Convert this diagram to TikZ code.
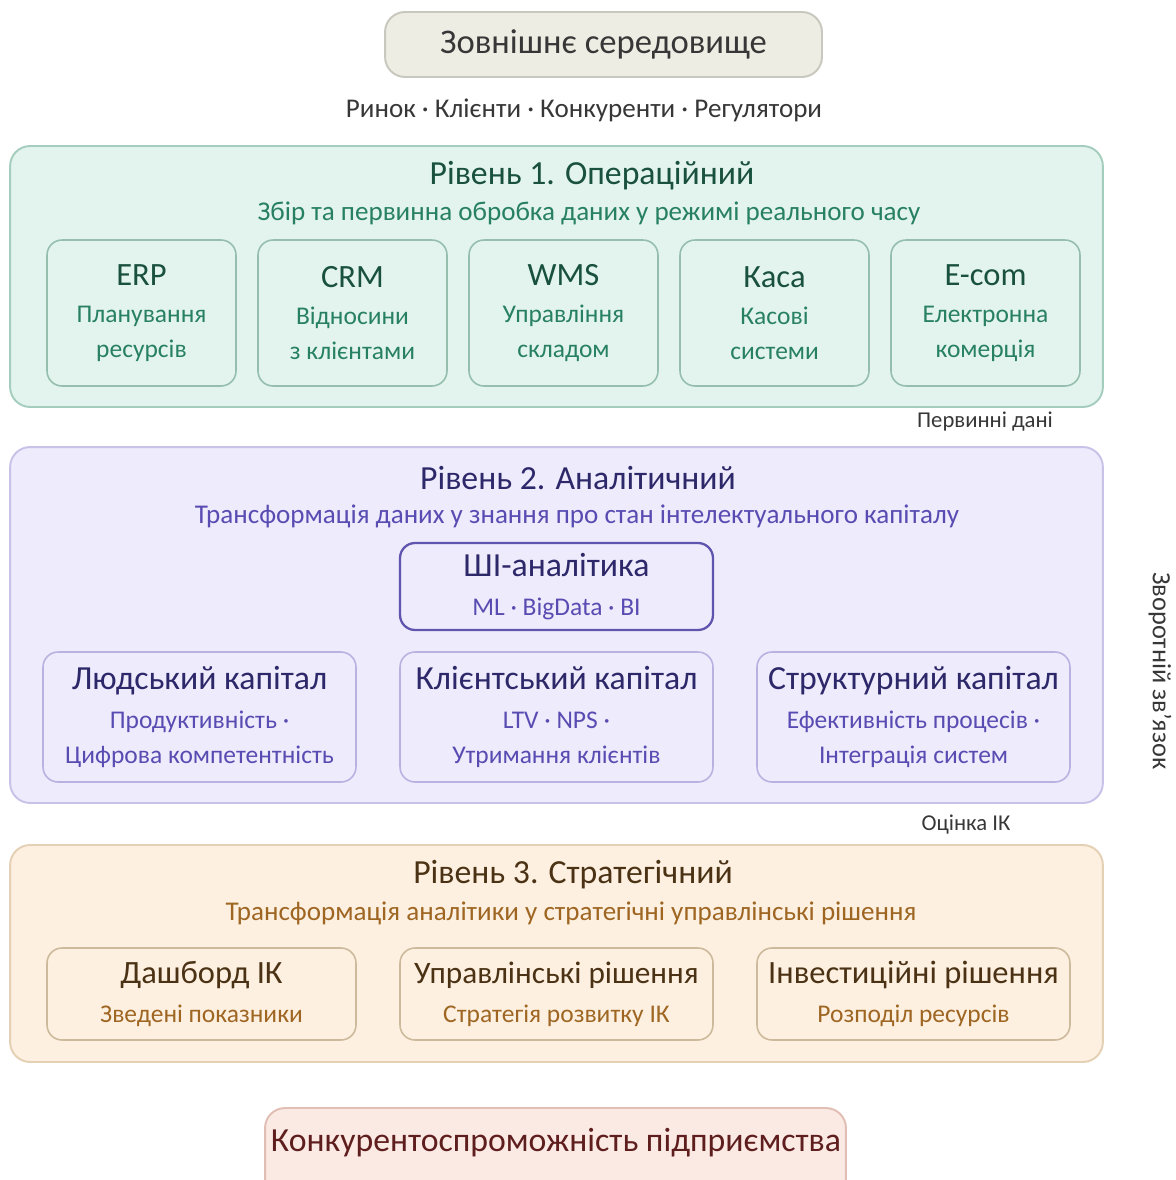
\documentclass[tikz,border=0pt]{standalone}
\usepackage{fontspec}
\setmainfont{Carlito}
\usetikzlibrary{positioning}
\definecolor{EnvFill}{RGB}{238, 237, 228}
\definecolor{EnvDraw}{RGB}{200, 200, 190}
\definecolor{EnvText}{RGB}{55, 55, 55}
\definecolor{OpFill}{RGB}{226, 244, 237}
\definecolor{OpDraw}{RGB}{165, 205, 190}
\definecolor{OpBox}{RGB}{150, 190, 175}
\definecolor{OpDark}{RGB}{25, 80, 62}
\definecolor{OpMid}{RGB}{40, 128, 98}
\definecolor{AnFill}{RGB}{238, 235, 252}
\definecolor{AnDraw}{RGB}{200, 194, 232}
\definecolor{AnBox}{RGB}{185, 178, 225}
\definecolor{AnStrong}{RGB}{95, 85, 175}
\definecolor{AnDark}{RGB}{45, 40, 105}
\definecolor{AnMid}{RGB}{88, 76, 178}
\definecolor{StFill}{RGB}{253, 240, 224}
\definecolor{StDraw}{RGB}{228, 208, 180}
\definecolor{StBox}{RGB}{205, 185, 155}
\definecolor{StDark}{RGB}{75, 50, 20}
\definecolor{StMid}{RGB}{158, 102, 34}
\definecolor{ResFill}{RGB}{251, 233, 228}
\definecolor{ResDraw}{RGB}{225, 190, 180}
\definecolor{ResText}{RGB}{95, 30, 30}
\newcommand{\headfont}{\fontsize{19.2}{22}\selectfont}
\newcommand{\bigfont}{\fontsize{18.5}{21}\selectfont}
\newcommand{\decfont}{\fontsize{17.8}{21}\selectfont}
\newcommand{\leadfont}{\fontsize{15.4}{18}\selectfont}
\newcommand{\midfont}{\fontsize{14.5}{20}\selectfont}
\newcommand{\smallfont}{\fontsize{12.9}{15}\selectfont}

\begin{document}
\begin{tikzpicture}[x=0.02cm, y=-0.02cm, every node/.style={inner sep=0pt},
    layer/.style={rounded corners=0.4cm, line width=1.1pt},
    block/.style={rounded corners=0.3cm, line width=0.9pt, align=center, font=\midfont}]
    \clip (0,0) rectangle (1176,1180);

    % --- ENVIRONMENT ---
    \node[layer, draw=EnvDraw, fill=EnvFill, minimum width=8.74cm, minimum height=1.3cm, font=\fontsize{19.7}{22}\selectfont, text=EnvText] (env) at (603.5, 44.5) {Зовнішнє середовище};
    \node[font=\leadfont, text=EnvText] (envlist) at (584, 110) {Ринок · Клієнти · Конкуренти · Регулятори};

    % --- LEVEL 1 ---
    \node[layer, draw=OpDraw, fill=OpFill, minimum width=21.86cm, minimum height=5.22cm] (lvlone) at (556.5, 276.5) {};
    \node[font=\headfont, text=OpDark] (lvlonetitle) at (592, 176) {Рівень 1. Операційний};
    \node[font=\leadfont, text=OpMid] (lvlonesub) at (589, 213) {Збір та первинна обробка даних у режимі реального часу};

    \node[block, draw=OpBox, fill=OpFill, minimum width=3.78cm, minimum height=2.92cm, text=OpMid] (erp) at (141.5, 313) {{\bigfont\color{OpDark}ERP}\\[1pt]Планування\\ресурсів};
    \node[block, draw=OpBox, fill=OpFill, minimum width=3.78cm, minimum height=2.92cm, text=OpMid] (crm) at (352.5, 313) {{\bigfont\color{OpDark}CRM}\\[1pt]Відносини\\з клієнтами};
    \node[block, draw=OpBox, fill=OpFill, minimum width=3.78cm, minimum height=2.92cm, text=OpMid] (wms) at (563.5, 313) {{\bigfont\color{OpDark}WMS}\\[1pt]Управління\\складом};
    \node[block, draw=OpBox, fill=OpFill, minimum width=3.78cm, minimum height=2.92cm, text=OpMid] (cash) at (774.5, 313) {{\bigfont\color{OpDark}Каса}\\[1pt]Касові\\системи};
    \node[block, draw=OpBox, fill=OpFill, minimum width=3.78cm, minimum height=2.92cm, text=OpMid] (ecom) at (985.5, 313) {{\bigfont\color{OpDark}E-com}\\[1pt]Електронна\\комерція};

    \node[font=\smallfont, text=EnvText] (rawdata) at (985, 422) {Первинні дані};

    % --- LEVEL 2 ---
    \node[layer, draw=AnDraw, fill=AnFill, minimum width=21.86cm, minimum height=7.12cm] (lvltwo) at (556.5, 625) {};
    \node[font=\headfont, text=AnDark] (lvltwotitle) at (578, 478) {Рівень 2. Аналітичний};
    \node[font=\leadfont, text=AnMid] (lvltwosub) at (577, 516) {Трансформація даних у знання про стан інтелектуального капіталу};

    \node[block, draw=AnStrong, line width=1.3pt, fill=AnFill, minimum width=6.26cm, minimum height=1.74cm, text=AnMid] (ai) at (556.5, 586.5) {{\headfont\color{AnDark}ШІ-аналітика}\\[2pt]ML · BigData · BI};

    \node[block, draw=AnBox, fill=AnFill, minimum width=6.26cm, minimum height=2.6cm, text=AnMid] (human) at (199.5, 717) {{\headfont\color{AnDark}Людський капітал}\\[2pt]Продуктивність ·\\Цифрова компетентність};
    \node[block, draw=AnBox, fill=AnFill, minimum width=6.26cm, minimum height=2.6cm, text=AnMid] (client) at (556.5, 717) {{\headfont\color{AnDark}Клієнтський капітал}\\[2pt]LTV · NPS ·\\Утримання клієнтів};
    \node[block, draw=AnBox, fill=AnFill, minimum width=6.26cm, minimum height=2.6cm, text=AnMid] (struct) at (913.5, 717) {{\headfont\color{AnDark}Структурний капітал}\\[2pt]Ефективність процесів ·\\Інтеграція систем};

    \node[font=\smallfont, text=EnvText] (icscore) at (966, 825) {Оцінка ІК};

    % --- LEVEL 3 ---
    \node[layer, draw=StDraw, fill=StFill, minimum width=21.86cm, minimum height=4.34cm] (lvlthree) at (556.5, 953.5) {};
    \node[font=\headfont, text=StDark] (lvlthreetitle) at (573, 875) {Рівень 3. Стратегічний};
    \node[font=\leadfont, text=StMid] (lvlthreesub) at (571, 913) {Трансформація аналітики у стратегічні управлінські рішення};

    \node[block, draw=StBox, fill=StFill, minimum width=6.18cm, minimum height=1.84cm, text=StMid] (dash) at (201.5, 994) {{\bigfont\color{StDark}Дашборд ІК}\\[2pt]Зведені показники};
    \node[block, draw=StBox, fill=StFill, minimum width=6.26cm, minimum height=1.84cm, text=StMid] (mgmt) at (556.5, 994) {{\decfont\color{StDark}Управлінські рішення}\\[2pt]Стратегія розвитку ІК};
    \node[block, draw=StBox, fill=StFill, minimum width=6.26cm, minimum height=1.84cm, text=StMid] (invest) at (913.5, 994) {{\bigfont\color{StDark}Інвестиційні рішення}\\[2pt]Розподіл ресурсів};

    % --- RESULT ---
    \node[layer, draw=ResDraw, fill=ResFill, minimum width=11.62cm, minimum height=1.84cm] (result) at (555.5, 1154) {};
    \node[font=\fontsize{19.2}{22}\selectfont, text=ResText] (resulttext) at (556, 1143) {Конкурентоспроможність підприємства};

    % feedback label
    \node[font=\fontsize{15}{18}\selectfont, text=EnvText, rotate=-90] (feedback) at (1160, 671) {Зворотній зв’язок};
\end{tikzpicture}
\end{document}
